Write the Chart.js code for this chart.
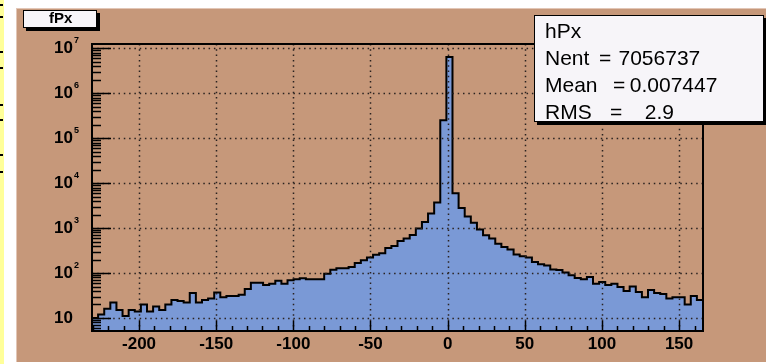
<!DOCTYPE html>
<html>
<head>
<meta charset="utf-8">
<script src="https://cdn.jsdelivr.net/npm/chart.js@4"></script>
<style>
  html, body { margin: 0; padding: 0; background: #fff; }
  body { width: 766px; height: 364px; position: relative; overflow: hidden; font-family: "Liberation Sans", Arial, sans-serif; }
  .strip { position: absolute; left: 0; top: 0; width: 4px; height: 364px; background: #ffff99; }
  .mark { position: absolute; left: 0; width: 3px; height: 2px; background: #000; }
  .pad { position: absolute; left: 16px; top: 8px; width: 750px; height: 354px; background: #c6987a;
         border-top: 1px solid #e2c6b6; border-left: 1px solid #e2c6b6; box-sizing: border-box; }
  canvas { position: absolute; left: 0; top: 0; }
  .box { position: absolute; background: #f7f5f9; border: 1px solid #000; box-shadow: 3px 3px 0 #000; box-sizing: border-box; }
  .txt { position: absolute; white-space: pre; color: #000; }
  .title { font-size: 15px; line-height: 15px; font-weight: bold; }
  .stat { font-size: 21px; line-height: 21px; }
</style>
</head>
<body>
<div class="strip" id="strip"></div>
<div class="pad"></div>
<canvas id="chart" width="766" height="364"></canvas>

<div class="box" style="left:23px; top:10px; width:74px; height:18px;"></div>
<div class="txt title" style="left:49px; top:10px;">fPx</div>

<div class="box" id="stats" style="left:534px; top:15px; width:230px; height:107px;"></div>

<script>
// histogram binning (hPx)
const BIN_MIN = -230.5;
const BIN_WIDTH = 3.96;
const counts = [
  10, 12, 16, 22, 15, 11, 15, 14, 20, 14,
  18, 15, 20, 25, 24, 22, 36, 22, 25, 27,
  37, 29, 31, 31, 33, 44, 61, 61, 54, 58,
  67, 58, 69, 73, 77, 73, 73, 73, 97, 118,
  128, 128, 137, 167, 192, 221, 254, 274, 361, 398,
  515, 585, 698, 980, 1370, 2120, 3700, 250000, 6460000, 6000,
  2800, 1810, 1320, 930, 695, 585, 450, 380, 333, 258,
  237, 222, 177, 157, 147, 120, 117, 103, 89, 78,
  73, 82, 58, 63, 54, 58, 49, 40, 50, 38,
  29, 42, 36, 34, 27, 29, 29, 20, 31, 25
];

const xTicks = [-200, -150, -100, -50, 0, 50, 100, 150];
const yDecades = [10, 100, 1000, 10000, 100000, 1000000, 10000000];

const X_MIN = -230.5;
const X_MAX = 165.5;
const Y_MIN = 5.13;
const Y_MAX = 1.25e7;

const statNames = ["Nent", "Mean", "RMS"];
const statValues = ["7056737", "0.007447", "2.9"];

const FONT = "'Liberation Sans', Arial, sans-serif";

// little black marks on the yellow strip
const stripMarks = [4, 16, 51, 67, 104, 119, 154, 171];
stripMarks.forEach((t) => {
  const m = document.createElement("div");
  m.className = "mark";
  m.style.top = t + "px";
  document.body.appendChild(m);
});

// stats box text
function addText(text, left, top) {
  const d = document.createElement("div");
  d.className = "txt stat";
  d.style.left = left + "px";
  d.style.top = top + "px";
  d.textContent = text;
  document.body.appendChild(d);
}
const statTops = [46.5, 73.9, 101.2];
const eqLeft = [599, 613, 610];
const valLeft = [618.5, 629.8, 644.8];
addText("hPx", 545, 19.9);
statNames.forEach((n, i) => {
  addText(n, 545, statTops[i]);
  addText("=", eqLeft[i], statTops[i]);
  addText(statValues[i], valLeft[i], statTops[i]);
});

const points = counts.map((c, i) => ({ x: BIN_MIN + i * BIN_WIDTH, y: c }));
points.push({ x: BIN_MIN + counts.length * BIN_WIDTH, y: counts[counts.length - 1] });

// ROOT style frame: dotted grid, inward ticks, exponents
const rootAxes = {
  id: "rootAxes",
  afterDatasetsDraw(chart) {
    const { ctx, chartArea: a, scales: { x, y } } = chart;
    ctx.save();

    ctx.strokeStyle = "#2a2220";
    ctx.lineWidth = 1.5;
    ctx.setLineDash([1.5, 3.8]);
    ctx.beginPath();
    xTicks.forEach((v) => {
      const px = Math.round(x.getPixelForValue(v)) + 0.5;
      ctx.moveTo(px, a.top);
      ctx.lineTo(px, a.bottom);
    });
    yDecades.forEach((v) => {
      const py = Math.round(y.getPixelForValue(v)) + 0.5;
      ctx.moveTo(a.left, py);
      ctx.lineTo(a.right, py);
    });
    ctx.stroke();
    ctx.setLineDash([]);

    ctx.strokeStyle = "#000";
    ctx.lineWidth = 1.5;
    ctx.beginPath();
    for (let v = Math.ceil(x.min / 10) * 10; v <= x.max; v += 10) {
      const px = Math.round(x.getPixelForValue(v)) + 0.5;
      const len = v % 50 === 0 ? 10 : 5;
      ctx.moveTo(px, a.bottom);
      ctx.lineTo(px, a.bottom - len);
    }
    for (let d = 1; d <= 1e7; d *= 10) {
      for (let m = 1; m <= 9; m++) {
        const v = m * d;
        if (v < y.min || v > y.max) continue;
        const py = Math.round(y.getPixelForValue(v)) + 0.5;
        const len = m === 1 ? 19 : 9;
        ctx.moveTo(a.left, py);
        ctx.lineTo(a.left + len, py);
      }
    }
    ctx.stroke();

    ctx.lineWidth = 2;
    ctx.strokeRect(a.left, a.top, a.right - a.left, a.bottom - a.top);

    ctx.fillStyle = "#000";
    ctx.font = "bold 9px " + FONT;
    ctx.textBaseline = "alphabetic";
    ctx.textAlign = "left";
    yDecades.forEach((v) => {
      if (v <= 10) return;
      const py = y.getPixelForValue(v);
      ctx.fillText(String(Math.round(Math.log10(v))), a.left - 18, py - 5.4);
    });
    ctx.restore();
  },
};

new Chart(document.getElementById("chart"), {
  type: "line",
  data: {
    datasets: [
      {
        label: "hPx",
        data: points,
        stepped: true,
        fill: "start",
        backgroundColor: "#7a99d6",
        borderColor: "#000",
        borderWidth: 2,
        pointRadius: 0,
      },
    ],
  },
  plugins: [rootAxes],
  options: {
    responsive: false,
    animation: false,
    devicePixelRatio: 1,
    layout: { padding: { top: 44, right: 63, bottom: 0, left: 0 } },
    plugins: {
      legend: { display: false },
      tooltip: { enabled: false },
    },
    scales: {
      x: {
        type: "linear",
        min: X_MIN,
        max: X_MAX,
        afterBuildTicks: (s) => {
          s.ticks = xTicks.map((v) => ({ value: v }));
          s.min = X_MIN;
          s.max = X_MAX;
        },
        afterFit: (s) => {
          s.height = 33;
        },
        grid: { display: false, drawTicks: false },
        border: { display: false },
        ticks: {
          font: { family: FONT, size: 17, weight: "bold" },
          color: "#000",
          padding: 3,
          maxRotation: 0,
          autoSkip: false,
        },
      },
      y: {
        type: "logarithmic",
        min: Y_MIN,
        max: Y_MAX,
        afterBuildTicks: (s) => {
          s.ticks = yDecades.map((v) => ({ value: v }));
          s.min = Y_MIN;
          s.max = Y_MAX;
        },
        afterFit: (s) => {
          s.width = 92;
        },
        grid: { display: false, drawTicks: false },
        border: { display: false },
        ticks: {
          callback: () => "10",
          font: { family: FONT, size: 17, weight: "bold" },
          color: "#000",
          padding: 19,
          autoSkip: false,
        },
      },
    },
  },
});
</script>
</body>
</html>
